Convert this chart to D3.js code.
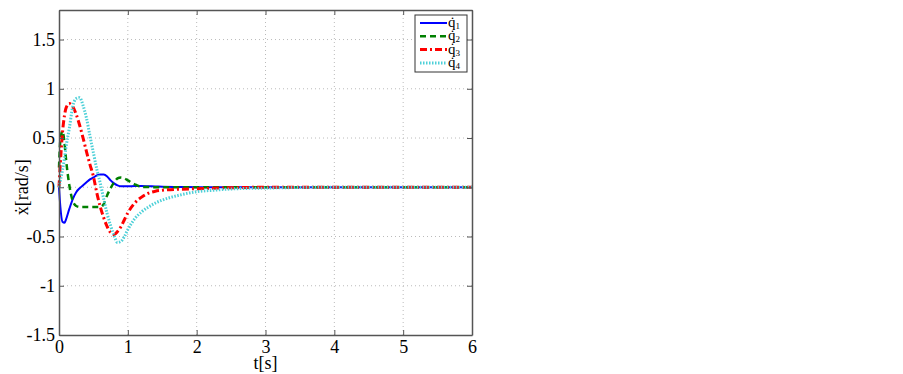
<!DOCTYPE html>
<html>
<head>
<meta charset="utf-8">
<script src="https://cdn.jsdelivr.net/npm/d3@7"></script>
<style>
  body { margin: 0; background: #fff; }
</style>
</head>
<body>
<script>
var width = 903,
  height = 374

var margin = {left: 59, right: 431, top: 10, bottom: 39}
var serif = '"Liberation Serif"'

// time samples [s]
var times = [0, 0.02, 0.05, 0.08, 0.1, 0.15, 0.2, 0.25, 0.3, 0.35, 0.4, 0.45, 0.5, 0.55, 0.6,
  0.65, 0.7, 0.75, 0.8, 0.85, 0.9, 0.95, 1.0, 1.1, 1.2, 1.3, 1.4, 1.5, 1.75, 2.0, 2.25, 2.5,
  3, 4, 5, 6]

var q1 = [0, -0.2, -0.35, -0.36, -0.33, -0.22, -0.12, -0.05, -0.01, 0.02, 0.05, 0.08, 0.1, 0.12, 0.13,
  0.13, 0.11, 0.07, 0.04, 0.02, 0.01, 0.01, 0.01, 0.012, 0.012, 0.01, 0.008, 0.005, 0.003, 0.001, 0, 0,
  0, 0, 0, 0]

var q2 = [0.2, 0.48, 0.57, 0.45, 0.3, 0.02, -0.14, -0.19, -0.2, -0.2, -0.2, -0.2, -0.2, -0.2, -0.2,
  -0.17, -0.08, -0.01, 0.05, 0.09, 0.1, 0.09, 0.07, 0.03, 0.005, 0.002, 0, 0, 0, 0, 0, 0,
  0, 0, 0, 0]

var q3 = [0, 0.25, 0.55, 0.73, 0.8, 0.85, 0.82, 0.74, 0.63, 0.5, 0.36, 0.23, 0.11, -0.06, -0.2,
  -0.31, -0.4, -0.46, -0.48, -0.45, -0.4, -0.33, -0.26, -0.16, -0.1, -0.06, -0.04, -0.03, -0.02, -0.015, -0.01, -0.005,
  0, 0, 0, 0]

var q4 = [0, 0.07, 0.17, 0.3, 0.4, 0.6, 0.82, 0.9, 0.91, 0.83, 0.7, 0.52, 0.35, 0.18, 0.04,
  -0.12, -0.27, -0.39, -0.49, -0.56, -0.55, -0.5, -0.43, -0.32, -0.25, -0.2, -0.16, -0.13, -0.08, -0.045, -0.03, -0.017,
  -0.008, 0, 0, 0]

var xTicks = [0, 1, 2, 3, 4, 5, 6]
var yTicks = [-1.5, -1, -0.5, 0, 0.5, 1, 1.5]
var seriesNames = ['1', '2', '3', '4']

var series = [
  {name: seriesNames[0], values: q1, color: '#0000ff', width: 2, dash: null},
  {name: seriesNames[1], values: q2, color: '#008000', width: 2.5, dash: '6,4'},
  {name: seriesNames[2], values: q3, color: '#ff0000', width: 3, dash: '7,3,2,3'},
  {name: seriesNames[3], values: q4, color: '#4dd0d8', width: 3, dash: '1.5,1.5'}
]

var plotW = width - margin.left - margin.right,
  plotH = height - margin.top - margin.bottom

var x = d3.scaleLinear().domain([0, 6]).range([0, plotW])
var y = d3.scaleLinear().domain([-1.5, 1.8]).range([plotH, 0])

var fmt = function (d) { return String(d) }

var svg = d3.select('body').append('svg')
  .attr('width', width)
  .attr('height', height)

var g = svg.append('g')
  .attr('transform', 'translate(' + margin.left + ',' + margin.top + ')')

// grid
g.selectAll('.vgrid')
  .data(xTicks.slice(1, -1))
  .enter().append('line')
  .attr('x1', function (d) { return x(d) })
  .attr('x2', function (d) { return x(d) })
  .attr('y1', 0)
  .attr('y2', plotH)
  .attr('stroke', '#bbb')
  .attr('stroke-dasharray', '1,3')

g.selectAll('.hgrid')
  .data(yTicks.slice(1))
  .enter().append('line')
  .attr('x1', 0)
  .attr('x2', plotW)
  .attr('y1', function (d) { return y(d) })
  .attr('y2', function (d) { return y(d) })
  .attr('stroke', '#bbb')
  .attr('stroke-dasharray', '1,3')

// lines
var line = d3.line()
  .x(function (d) { return x(d[0]) })
  .y(function (d) { return y(d[1]) })
  .curve(d3.curveMonotoneX)

series.forEach(function (s) {
  g.append('path')
    .datum(times.map(function (t, i) { return [t, s.values[i]] }))
    .attr('d', line)
    .attr('fill', 'none')
    .attr('stroke', s.color)
    .attr('stroke-width', s.width)
    .attr('stroke-dasharray', s.dash)
})

// axes (ticks inside, box)
var xAxis = g.append('g')
  .attr('transform', 'translate(0,' + plotH + ')')
  .call(d3.axisBottom(x).tickValues(xTicks).tickFormat(fmt).tickSizeInner(-5).tickSizeOuter(0).tickPadding(5))
var yAxis = g.append('g')
  .call(d3.axisLeft(y).tickValues(yTicks).tickFormat(fmt).tickSizeInner(-5).tickSizeOuter(0).tickPadding(4))
g.append('g')
  .call(d3.axisTop(x).tickValues(xTicks).tickSizeInner(-5).tickSizeOuter(0).tickFormat(''))
g.append('g')
  .attr('transform', 'translate(' + plotW + ',0)')
  .call(d3.axisRight(y).tickValues(yTicks).tickSizeInner(-5).tickSizeOuter(0).tickFormat(''))

g.selectAll('.domain').attr('stroke', '#555').attr('stroke-width', 1.5)
g.selectAll('.tick line').attr('stroke', '#555')
g.selectAll('.tick text')
  .style('font-family', serif)
  .style('font-size', '18px')
  .attr('fill', '#000')
xAxis.selectAll('.tick text').attr('dy', '0.71em')
yAxis.selectAll('.tick text').attr('dy', '0.32em')

// axis labels
svg.append('text')
  .attr('x', margin.left + x(3))
  .attr('y', 369)
  .attr('text-anchor', 'middle')
  .style('font-family', serif)
  .style('font-size', '18px')
  .text('t[s]')

svg.append('text')
  .attr('transform', 'translate(28,' + (margin.top + y(0)) + ') rotate(-90)')
  .attr('text-anchor', 'middle')
  .style('font-family', serif)
  .style('font-size', '18px')
  .text('ẋ[rad/s]')

// legend
var leg = svg.append('g').attr('transform', 'translate(415,15)')
leg.append('rect')
  .attr('width', 52)
  .attr('height', 57)
  .attr('fill', '#fff')
  .attr('stroke', '#333')
  .attr('stroke-width', 1)

series.forEach(function (s, i) {
  var yy = 8 + i * 13.3
  leg.append('line')
    .attr('x1', 5).attr('x2', 32)
    .attr('y1', yy).attr('y2', yy)
    .attr('stroke', s.color)
    .attr('stroke-width', s.width)
    .attr('stroke-dasharray', s.dash)
  var t = leg.append('text')
    .attr('x', 33)
    .attr('y', yy + 4)
    .style('font-family', serif)
    .style('font-size', '15px')
  t.append('tspan').text('q̇')
  t.append('tspan')
    .attr('dy', 2)
    .style('font-size', '9px')
    .text(s.name)
})
</script>
</body>
</html>
